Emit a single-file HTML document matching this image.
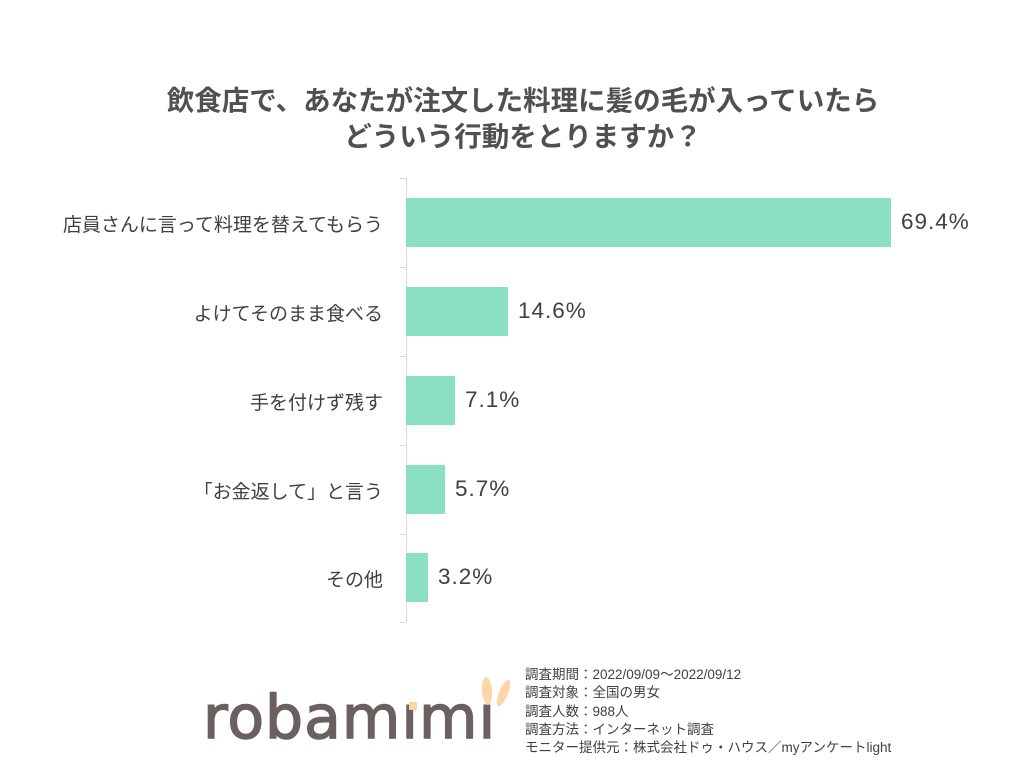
<!DOCTYPE html>
<html><head><meta charset="utf-8"><style>
body{margin:0;width:1024px;height:771px;background:#fff;position:relative;overflow:hidden;font-family:"Liberation Sans","Noto Sans CJK JP",sans-serif;color:#404040}
.t{position:absolute;left:0;width:1046px;text-align:center;font-weight:bold;font-size:27.5px;color:#505050}
.bar{position:absolute;left:406px;height:49px;background:#8be0c2}
.lab{position:absolute;right:641px;font-size:19px;color:#404040;white-space:nowrap}
.val{position:absolute;font-size:22.5px;color:#404040;letter-spacing:1px}
.tick{position:absolute;left:400px;width:6px;height:1px;background:#d9d9d9}
.note{position:absolute;left:525px;top:666px;font-size:13.5px;line-height:18.3px;color:#404040}
</style></head><body>
<div class="t" style="top:78px">飲食店で、あなたが注文した料理に髪の毛が入っていたら</div>
<div class="t" style="top:114px">どういう行動をとりますか？</div>
<div style="position:absolute;left:406px;top:178px;width:1px;height:444px;background:#d9d9d9"></div>
<div class="tick" style="top:178px"></div><div class="tick" style="top:267px"></div><div class="tick" style="top:356px"></div><div class="tick" style="top:445px"></div><div class="tick" style="top:534px"></div><div class="tick" style="top:622px"></div>
<div class="bar" style="top:198px;width:485px"></div>
<div class="bar" style="top:287px;width:102px"></div>
<div class="bar" style="top:376px;width:49px"></div>
<div class="bar" style="top:465px;width:39px"></div>
<div class="bar" style="top:553px;width:22px"></div>
<div class="lab" style="top:210px">店員さんに言って料理を替えてもらう</div>
<div class="lab" style="top:299px">よけてそのまま食べる</div>
<div class="lab" style="top:388px">手を付けず残す</div>
<div class="lab" style="top:477px">「お金返して」と言う</div>
<div class="lab" style="top:565px">その他</div>
<div class="val" style="left:901px;top:209px">69.4%</div>
<div class="val" style="left:518px;top:298px">14.6%</div>
<div class="val" style="left:465px;top:387px">7.1%</div>
<div class="val" style="left:455px;top:476px">5.7%</div>
<div class="val" style="left:438px;top:564px">3.2%</div>
<div style="position:absolute;left:203px;top:683px;font-size:60px;color:#6b6060;letter-spacing:1px;font-family:'DejaVu Sans','Liberation Sans',sans-serif;line-height:70px;-webkit-text-stroke:1.5px #6b6060">robamımı</div>
<div style="position:absolute;left:409px;top:702px;width:8px;height:8px;background:#fcd7a6"></div>
<div style="position:absolute;left:482px;top:677px;width:10px;height:28px;border-radius:50%;background:#fcd7a6;transform:rotate(-4deg)"></div>
<div style="position:absolute;left:499px;top:679px;width:9px;height:28px;border-radius:50%;background:#fcd7a6;transform:rotate(22deg)"></div>
<div class="note">調査期間：2022/09/09～2022/09/12<br>調査対象：全国の男女<br>調査人数：988人<br>調査方法：インターネット調査<br>モニター提供元：株式会社ドゥ・ハウス／myアンケートlight</div>
</body></html>
